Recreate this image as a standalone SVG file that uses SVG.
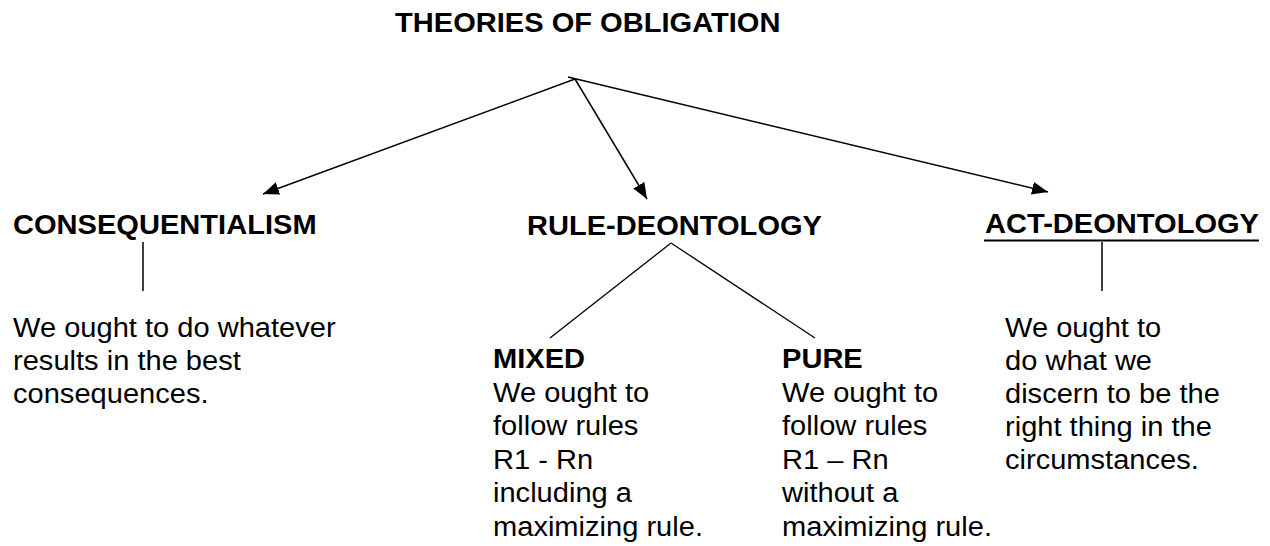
<svg xmlns="http://www.w3.org/2000/svg" width="1270" height="546" viewBox="0 0 1270 546">
<style>
.t{font-family:"Liberation Sans",Arial,sans-serif;font-size:27px;fill:#000}
.b{font-weight:bold}
.ln{stroke:#000;stroke-width:1.5;fill:none}
.br{stroke:#000;stroke-width:1.3;fill:none}
</style>
<defs>
<marker id="ah" markerUnits="userSpaceOnUse" markerWidth="16" markerHeight="13" refX="16" refY="6.5" orient="auto">
<path d="M0,0 L16,6.5 L0,13 z" fill="#000"/>
</marker>
</defs>
<rect width="1270" height="546" fill="#fff"/>
<g id="title">
<text class="t b" transform="translate(395,32) scale(1.077,1)">THEORIES OF OBLIGATION</text>
</g>
<g id="connectors">
<line class="ln" x1="575" y1="79" x2="263" y2="194" marker-end="url(#ah)"/>
<line class="ln" x1="575" y1="79" x2="647" y2="199" marker-end="url(#ah)"/>
<line class="ln" x1="568" y1="77" x2="1048" y2="192" marker-end="url(#ah)"/>
<line class="ln" x1="143" y1="242" x2="143" y2="291"/>
<line class="ln" x1="1102" y1="242" x2="1102" y2="291"/>
<line class="br" x1="671" y1="243" x2="550" y2="338"/>
<line class="br" x1="671" y1="243" x2="815" y2="338"/>
</g>
<g id="consequentialism">
<text class="t b" transform="translate(13,234) scale(1.077,1)">CONSEQUENTIALISM</text>
<text class="t" transform="translate(13,337) scale(1.077,1)"><tspan x="0" y="0">We ought to do whatever</tspan><tspan x="0" y="33">results in the best</tspan><tspan x="0" y="66">consequences.</tspan></text>
</g>
<g id="rule-deontology">
<text class="t b" transform="translate(527,235) scale(1.077,1)">RULE-DEONTOLOGY</text>
</g>
<g id="mixed">
<text class="t" transform="translate(493,368) scale(1.077,1)"><tspan class="b" x="0" y="0">MIXED</tspan><tspan x="0" y="33.6">We ought to</tspan><tspan x="0" y="67.2">follow rules</tspan><tspan x="0" y="100.8">R1 - Rn</tspan><tspan x="0" y="134.4">including a</tspan><tspan x="0" y="168">maximizing rule.</tspan></text>
</g>
<g id="pure">
<text class="t" transform="translate(782,368) scale(1.077,1)"><tspan class="b" x="0" y="0">PURE</tspan><tspan x="0" y="33.6">We ought to</tspan><tspan x="0" y="67.2">follow rules</tspan><tspan x="0" y="100.8">R1 – Rn</tspan><tspan x="0" y="134.4">without a</tspan><tspan x="0" y="168">maximizing rule.</tspan></text>
</g>
<g id="act-deontology">
<text class="t b" transform="translate(985,233) scale(1.077,1)">ACT-DEONTOLOGY</text>
<line x1="984" y1="240.5" x2="1259" y2="240.5" stroke="#000" stroke-width="2"/>
<text class="t" transform="translate(1005,337) scale(1.077,1)"><tspan x="0" y="0">We ought to</tspan><tspan x="0" y="33">do what we</tspan><tspan x="0" y="66">discern to be the</tspan><tspan x="0" y="99">right thing in the</tspan><tspan x="0" y="132">circumstances.</tspan></text>
</g>
</svg>
